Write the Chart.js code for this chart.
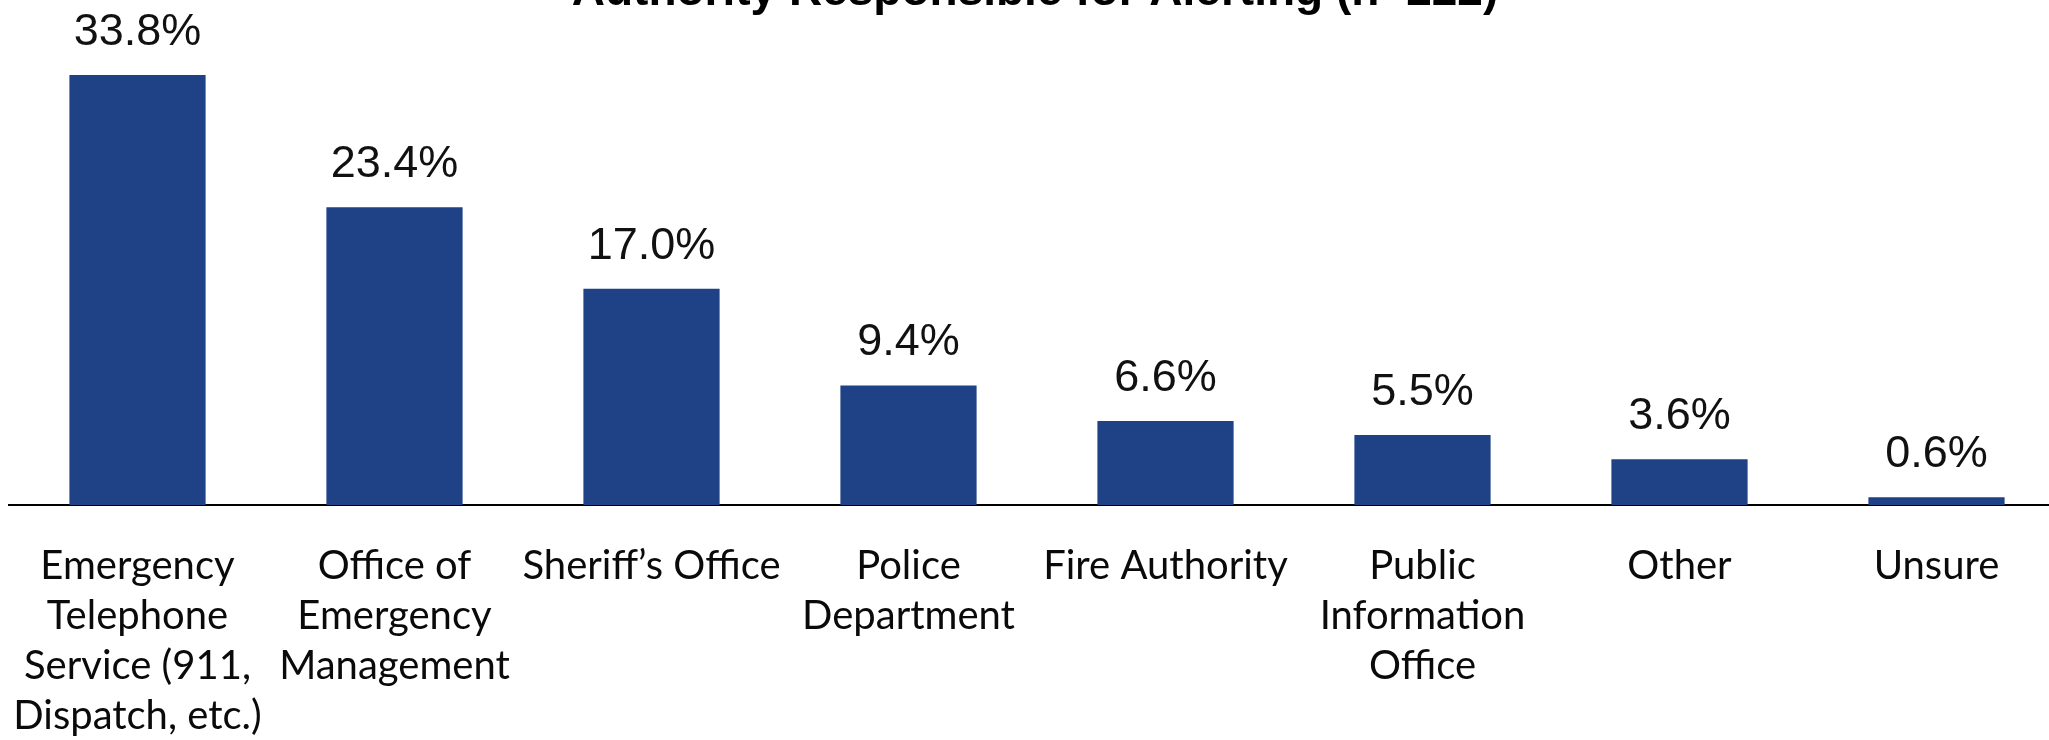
<!DOCTYPE html>
<html>
<head>
<meta charset="utf-8">
<script src="https://cdn.jsdelivr.net/npm/chart.js@4.4.1/dist/chart.umd.min.js"></script>
<style>
  html, body { margin: 0; padding: 0; background: #ffffff; overflow: hidden; }
  #wrap { position: relative; width: 2066px; height: 740px; }
</style>
</head>
<body>
<div id="wrap"><canvas id="chart"></canvas></div>
<script>
// Survey results: who is responsible for sending alerts
const chartTitle = 'Authority Responsible for Alerting (n=222)';

const categories = [
  ['Emergency', 'Telephone', 'Service (911,', 'Dispatch, etc.)'],
  ['Office of', 'Emergency', 'Management'],
  ['Sheriff\u2019s Office'],
  ['Police', 'Department'],
  ['Fire Authority'],
  ['Public', 'Information', 'Office'],
  ['Other'],
  ['Unsure']
];

const percentages = [33.8, 23.4, 17.0, 9.4, 6.6, 5.5, 3.6, 0.6];

const barColor = '#1f4286';

// Percent labels above each bar, plus the heading centred over the plot
const annotate = {
  id: 'annotate',
  afterDatasetsDraw(chart) {
    const ctx = chart.ctx;
    const meta = chart.getDatasetMeta(0);
    ctx.save();
    ctx.fillStyle = '#111111';
    ctx.font = '45px "Liberation Sans", Arial, sans-serif';
    ctx.textAlign = 'center';
    ctx.textBaseline = 'alphabetic';
    meta.data.forEach((bar, i) => {
      ctx.fillText(percentages[i].toFixed(1) + '%', bar.x, bar.y - 30);
    });
    const area = chart.chartArea;
    ctx.font = 'bold 46px "Liberation Sans", Arial, sans-serif';
    ctx.fillStyle = '#000000';
    ctx.fillText(chartTitle, (area.left + area.right) / 2 - 2, 5);
    ctx.restore();
  }
};

new Chart(document.getElementById('chart'), {
  type: 'bar',
  data: {
    labels: categories,
    datasets: [{
      data: percentages,
      backgroundColor: barColor,
      borderWidth: 0,
      barPercentage: 0.53,
      categoryPercentage: 1.0
    }]
  },
  options: {
    responsive: true,
    maintainAspectRatio: false,
    animation: false,
    layout: { padding: { left: 9, right: 1, top: 47, bottom: 0 } },
    plugins: {
      legend: { display: false },
      tooltip: { enabled: false },
      title: { display: false }
    },
    scales: {
      x: {
        grid: { display: false, drawTicks: false, tickLength: 0 },
        border: { display: true, color: '#000000', width: 2 },
        ticks: {
          color: '#0a0a0a',
          font: { family: 'Lato, "Open Sans", sans-serif', size: 40, lineHeight: '50px' },
          padding: 36,
          maxRotation: 0,
          minRotation: 0,
          autoSkip: false
        },
        // fixed band for the wrapped category names; labels may overhang the edges
        afterFit(scale) {
          scale.height = 235;
          scale.paddingLeft = 0;
          scale.paddingRight = 0;
        }
      },
      y: {
        display: false,
        min: 0,
        max: 36
      }
    }
  },
  plugins: [annotate]
});
</script>
</body>
</html>
